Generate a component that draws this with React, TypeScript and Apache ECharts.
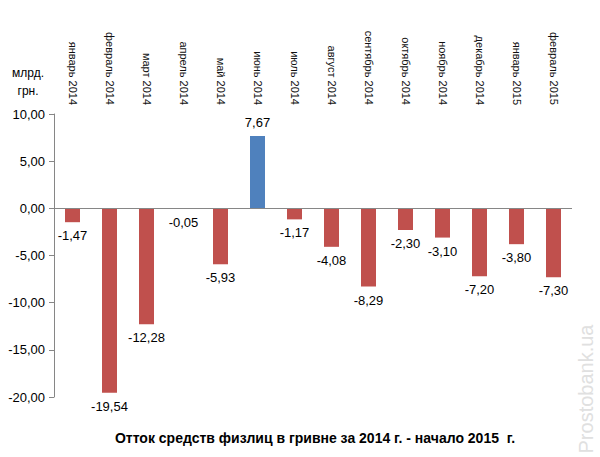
import React, { useEffect, useRef } from "react";
import * as echarts from "echarts";

const categories = [
  "январь 2014", "февраль 2014", "март 2014", "апрель 2014", "май 2014", "июнь 2014",
  "июль 2014", "август 2014", "сентябрь 2014", "октябрь 2014", "ноябрь 2014",
  "декабрь 2014", "январь 2015", "февраль 2015",
];
const values = [-1.47, -19.54, -12.28, -0.05, -5.93, 7.67, -1.17, -4.08, -8.29, -2.3, -3.1, -7.2, -3.8, -7.3];
const unitLines = ["млрд.", "грн."];
const titleText = "Отток средств физлиц в гривне за 2014 г. - начало 2015  г.";
const watermark = "Prostobank.ua";

const fmt = (v: number) => v.toFixed(2).replace(".", ",");
const FONT = "'Liberation Sans', Arial, sans-serif";

export default function App() {
  const ref = useRef<HTMLDivElement>(null);
  useEffect(() => {
    document.body.style.margin = "0";
    const chart = echarts.init(ref.current!, null, { renderer: "svg" });
    chart.setOption({
      animation: false,
      backgroundColor: "#fff",
      textStyle: { fontFamily: FONT },
      grid: { left: 54, right: 28, top: 114, bottom: 60 },
      xAxis: {
        type: "category",
        data: categories,
        position: "top",
        axisLine: { show: false, onZero: false },
        axisTick: { show: false },
        axisLabel: { rotate: 90, margin: 9, fontSize: 11, color: "#111", fontFamily: FONT, interval: 0 },
      },
      yAxis: {
        type: "value",
        min: -20,
        max: 10,
        interval: 5,
        axisLine: { show: true, lineStyle: { color: "#868686" } },
        axisTick: { show: true, length: 5, lineStyle: { color: "#868686" } },
        splitLine: { show: false },
        axisLabel: { formatter: (v: number) => fmt(v), fontSize: 13, color: "#000", margin: 9, fontFamily: FONT },
      },
      series: [
        {
          type: "bar",
          barWidth: 15,
          data: values.map((v) => ({
            value: v,
            itemStyle: { color: v >= 0 ? "#4F81BD" : "#C0504D" },
            label: {
              show: true,
              position: v >= 0 ? "top" : "bottom",
              distance: 7,
              formatter: () => fmt(v),
              fontSize: 13,
              color: "#000",
              fontFamily: FONT,
            },
          })),
          markLine: {
            silent: true,
            symbol: "none",
            label: { show: false },
            lineStyle: { color: "#868686", type: "solid", width: 1 },
            data: [{ yAxis: 0 }],
          },
        },
      ],
      graphic: [
        {
          type: "text",
          x: 28,
          y: 64,
          style: { text: unitLines.join("\n"), fontSize: 12, lineHeight: 18, fill: "#000", align: "center", fontFamily: FONT },
        },
        {
          type: "text",
          x: 315,
          y: 438,
          style: { text: titleText, fontSize: 14, fontWeight: "bold", fill: "#000", align: "center", verticalAlign: "middle", fontFamily: FONT },
        },
        {
          type: "text",
          x: 586,
          y: 389,
          rotation: Math.PI / 2,
          style: { text: watermark, fontSize: 20, fill: "#e0e0e0", align: "center", verticalAlign: "middle", fontFamily: FONT },
        },
      ],
    });
    return () => chart.dispose();
  }, []);
  return <div ref={ref} style={{ width: 600, height: 457 }} />;
}
